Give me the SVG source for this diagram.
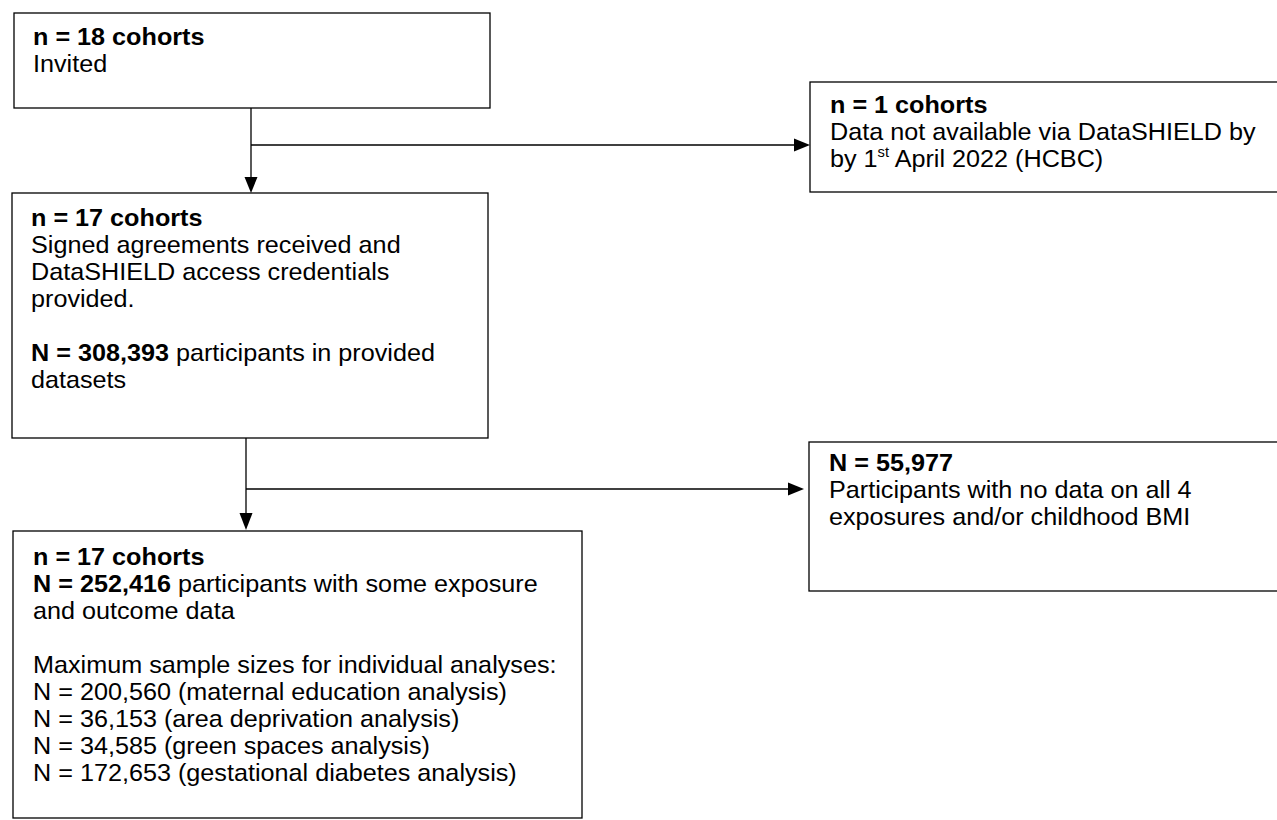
<svg xmlns="http://www.w3.org/2000/svg" width="1277" height="820" viewBox="0 0 1277 820">
<defs>
<style>
.box{fill:#fff;stroke:#000;stroke-width:1.3}
.t{font-family:"Liberation Sans",Arial,sans-serif;font-size:24px;fill:#000}
.b{font-weight:bold}
.ln{stroke:#000;stroke-width:1.3;fill:none}
.ah{fill:#000}
</style>
</defs>
<rect width="1277" height="820" fill="#fff"/>
<g id="connectors">
<line class="ln" x1="251" y1="108" x2="251" y2="178"/>
<polygon class="ah" points="244.5,177 257.5,177 251,193"/>
<line class="ln" x1="251" y1="145" x2="796" y2="145"/>
<polygon class="ah" points="794,138.5 794,151.5 810,145"/>
<line class="ln" x1="246" y1="438" x2="246" y2="514"/>
<polygon class="ah" points="239.5,513 252.5,513 246,530"/>
<line class="ln" x1="246" y1="489" x2="790" y2="489"/>
<polygon class="ah" points="788,482.5 788,495.5 804,489"/>
</g>
<g id="node1">
<rect class="box" x="14" y="13" width="476" height="95"/>
<g transform="translate(33,0) scale(1.05,1)">
<text class="t b" x="0" y="45">n = 18 cohorts</text>
<text class="t" x="0" y="72">Invited</text>
</g>
</g>
<g id="node2">
<rect class="box" x="810" y="82" width="480" height="110"/>
<g transform="translate(830,0) scale(1.05,1)">
<text class="t b" x="0" y="113">n = 1 cohorts</text>
<text class="t" x="0" y="140">Data not available via DataSHIELD by</text>
<text class="t" x="0" y="167">by 1<tspan font-size="14" baseline-shift="super" dy="-2">st</tspan><tspan dy="2"> April 2022 (HCBC)</tspan></text>
</g>
</g>
<g id="node3">
<rect class="box" x="12" y="193" width="476" height="245"/>
<g transform="translate(31,0) scale(1.05,1)">
<text class="t b" x="0" y="226">n = 17 cohorts</text>
<text class="t" x="0" y="253">Signed agreements received and</text>
<text class="t" x="0" y="280">DataSHIELD access credentials</text>
<text class="t" x="0" y="307">provided.</text>
<text class="t" x="0" y="361"><tspan class="b">N = 308,393</tspan> participants in provided</text>
<text class="t" x="0" y="388">datasets</text>
</g>
</g>
<g id="node4">
<rect class="box" x="809" y="442" width="480" height="149"/>
<g transform="translate(829,0) scale(1.05,1)">
<text class="t b" x="0" y="471">N = 55,977</text>
<text class="t" x="0" y="498">Participants with no data on all 4</text>
<text class="t" x="0" y="525">exposures and/or childhood BMI</text>
</g>
</g>
<g id="node5">
<rect class="box" x="13" y="531" width="569" height="287"/>
<g transform="translate(33,0) scale(1.05,1)">
<text class="t b" x="0" y="565">n = 17 cohorts</text>
<text class="t" x="0" y="592"><tspan class="b">N = 252,416</tspan> participants with some exposure</text>
<text class="t" x="0" y="619">and outcome data</text>
<text class="t" x="0" y="673">Maximum sample sizes for individual analyses:</text>
<text class="t" x="0" y="700">N = 200,560 (maternal education analysis)</text>
<text class="t" x="0" y="727">N = 36,153 (area deprivation analysis)</text>
<text class="t" x="0" y="754">N = 34,585 (green spaces analysis)</text>
<text class="t" x="0" y="781">N = 172,653 (gestational diabetes analysis)</text>
</g>
</g>
</svg>
